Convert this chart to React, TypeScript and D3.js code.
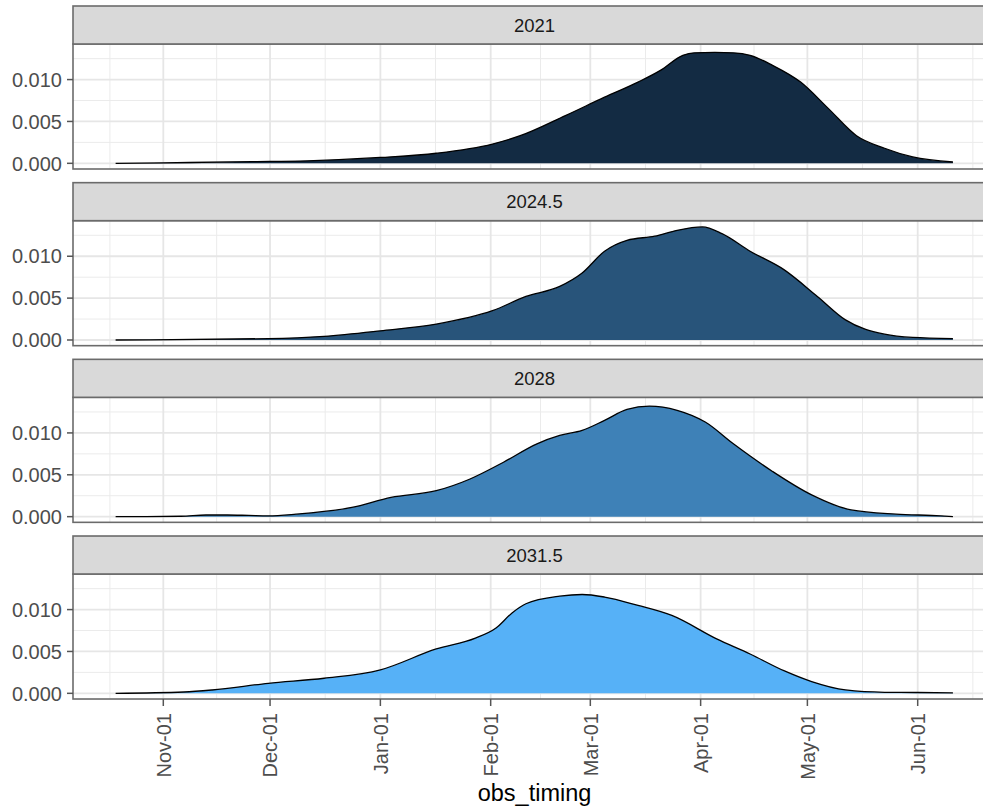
import React from "react";
import * as d3 from "d3";

// Facet labels (year) and their fill colour position
const facets = ["2021", "2024.5", "2028", "2031.5"];
const facetValues = [2021, 2024.5, 2028, 2031.5];

// Days since Nov-01 and density values for each facet
const days2021 = [-13.4, 7.4, 25, 40.5, 61, 76.7, 92.5, 100.3, 113, 124, 133.4, 139.7, 146, 149.2, 155, 160.2, 164.9, 171.2, 179.1, 187, 194.8, 202.7, 210.6, 221.9];
const dens2021 = [0, 0.0001, 0.0002, 0.0003, 0.0007, 0.0012, 0.0023, 0.0033, 0.0057, 0.0079, 0.0097, 0.0111, 0.0129, 0.0132, 0.01325, 0.0132, 0.0129, 0.0117, 0.0097, 0.0065, 0.0033, 0.0018, 0.00076, 0.00016];

const days2024 = [-13.4, 29.5, 45.2, 61, 76.7, 92.5, 101.9, 111.4, 117.7, 124, 130.3, 138.1, 144.4, 151.5, 157, 164.9, 174.4, 183.8, 191.7, 202.7, 210.6, 221.9];
const dens2024 = [0, 0.00016, 0.00044, 0.0011, 0.0019, 0.0035, 0.0052, 0.0064, 0.008, 0.0106, 0.0119, 0.0124, 0.0131, 0.0135, 0.0127, 0.0106, 0.0084, 0.0052, 0.0024, 0.0007, 0.0003, 0.00016];

const days2028 = [-13.4, 5, 12, 18, 24, 29.5, 37.3, 53, 64, 76.7, 86.2, 95.6, 105, 111.4, 117.7, 124, 130.3, 136.6, 144.4, 152.3, 160.2, 171.2, 182.2, 193.3, 205.9, 218.5, 221.9];
const dens2028 = [0, 0.00005, 0.0002, 0.0002, 0.00015, 0.0001, 0.0003, 0.0011, 0.0023, 0.0031, 0.0045, 0.0065, 0.0087, 0.0097, 0.0103, 0.0115, 0.0128, 0.0132, 0.0127, 0.0113, 0.0087, 0.0054, 0.0026, 0.0008, 0.0003, 0.0001, 0];

const days2031 = [-13.4, 5.8, 13.7, 29.5, 45.2, 61, 76.7, 87.7, 93.5, 98, 101.9, 111.4, 117.7, 124, 133.4, 142.9, 155.5, 164.9, 174.4, 182.2, 191.7, 202.7, 212, 221.9];
const dens2031 = [0, 0.00016, 0.0004, 0.0012, 0.0018, 0.0028, 0.0053, 0.0066, 0.0078, 0.0096, 0.0107, 0.0116, 0.0118, 0.0115, 0.0105, 0.0093, 0.0065, 0.0047, 0.0027, 0.0014, 0.0004, 0.00012, 0.0001, 0.00005];

const seriesDays = [days2021, days2024, days2028, days2031];
const seriesDens = [dens2021, dens2024, dens2028, dens2031];

const yTicks = [0, 0.005, 0.01];
const yMinor = [0.0025, 0.0075, 0.0125];

const W = 983;
const H = 809;
const panelLeft = 73;
const panelRight = 996;
const stripTop0 = 6;
const pitch = 176.67;
const stripH = 38;
const panelH = 125;

const base = Date.UTC(2021, 10, 1);
const toDate = (d: number) => new Date(base + d * 864e5);

export default function App() {
  const x = d3
    .scaleUtc()
    .domain([new Date(Date.UTC(2021, 10, 1)), new Date(Date.UTC(2022, 5, 1))])
    .range([163.3, 917.7]);
  const months = d3.utcMonth.range(new Date(Date.UTC(2021, 10, 1)), new Date(Date.UTC(2022, 5, 2)));
  const fmt = d3.utcFormat("%b-%d");
  const majX = months.map((m) => x(m));
  const minX: number[] = [];
  minX.push(majX[0] - (majX[1] - majX[0]) / 2);
  for (let i = 0; i < majX.length - 1; i++) minX.push((majX[i] + majX[i + 1]) / 2);
  minX.push(majX[majX.length - 1] + (majX[majX.length - 1] - majX[majX.length - 2]) / 2);

  const yMax = 0.01357;
  const pad = yMax * 0.05;
  const col = d3.scaleLinear<string>().domain([2021, 2031.5]).range(["#132B43", "#56B1F7"]).interpolate(d3.interpolateLab);

  const font = "Liberation Sans, Arial, sans-serif";

  return (
    <svg width={W} height={H} style={{ position: "absolute", left: 0, top: 0, background: "#fff" }} fontFamily={font}>
      <rect x={0} y={0} width={W} height={H} fill="#fff" />
      {facets.map((lab, i) => {
        const sTop = stripTop0 + i * pitch;
        const pTop = sTop + stripH;
        const pBot = pTop + panelH;
        const y = d3.scaleLinear().domain([-pad, yMax + pad]).range([pBot, pTop]);
        const pts = seriesDays[i].map((d, k) => ({ d: toDate(d), v: seriesDens[i][k] }));
        const area = d3
          .area<{ d: Date; v: number }>()
          .x((p) => x(p.d))
          .y0(y(0))
          .y1((p) => y(p.v))
          .curve(d3.curveMonotoneX);
        const line = d3
          .line<{ d: Date; v: number }>()
          .x((p) => x(p.d))
          .y((p) => y(p.v))
          .curve(d3.curveMonotoneX);
        return (
          <g key={lab}>
            {/* grid */}
            {yMinor.map((t) => (
              <line key={"ym" + t} x1={panelLeft} x2={panelRight} y1={y(t)} y2={y(t)} stroke="#EBEBEB" strokeWidth={1} />
            ))}
            {minX.map((v, k) => (
              <line key={"xm" + k} x1={v} x2={v} y1={pTop} y2={pBot} stroke="#EBEBEB" strokeWidth={1} />
            ))}
            {yTicks.map((t) => (
              <line key={"yM" + t} x1={panelLeft} x2={panelRight} y1={y(t)} y2={y(t)} stroke="#E6E6E6" strokeWidth={1.8} />
            ))}
            {majX.map((v, k) => (
              <line key={"xM" + k} x1={v} x2={v} y1={pTop} y2={pBot} stroke="#E6E6E6" strokeWidth={1.8} />
            ))}
            <path d={area(pts) || ""} fill={col(facetValues[i])} />
            <path d={line(pts) || ""} fill="none" stroke="#000" strokeWidth={1.3} />
            {/* panel border */}
            <rect x={panelLeft} y={pTop} width={panelRight - panelLeft} height={panelH} fill="none" stroke="#6b6b6b" strokeWidth={1.6} />
            {/* strip */}
            <rect x={panelLeft} y={sTop} width={panelRight - panelLeft} height={stripH} fill="#D9D9D9" stroke="#6b6b6b" strokeWidth={1.6} />
            <text x={(panelLeft + panelRight) / 2} y={sTop + stripH / 2} dy="0.36em" textAnchor="middle" fontSize={18.5} fill="#1A1A1A">
              {lab}
            </text>
            {/* y axis */}
            {yTicks.map((t) => (
              <g key={"yt" + t}>
                <line x1={panelLeft - 6} x2={panelLeft} y1={y(t)} y2={y(t)} stroke="#555" strokeWidth={1.5} />
                <text x={panelLeft - 11} y={y(t)} dy="0.36em" textAnchor="end" fontSize={20} fill="#4D4D4D">
                  {d3.format(".3f")(t)}
                </text>
              </g>
            ))}
            {i === facets.length - 1 &&
              months.map((m, k) => (
                <g key={"xt" + k}>
                  <line x1={x(m)} x2={x(m)} y1={pBot} y2={pBot + 7} stroke="#555" strokeWidth={1.5} />
                  <text
                    transform={`translate(${x(m)},${pBot + 14}) rotate(-90)`}
                    dy="0.36em"
                    textAnchor="end"
                    fontSize={20}
                    fill="#4D4D4D"
                  >
                    {fmt(m)}
                  </text>
                </g>
              ))}
          </g>
        );
      })}
      <text x={(panelLeft + panelRight) / 2} y={801} textAnchor="middle" fontSize={23.5} fill="#000">
        obs_timing
      </text>
    </svg>
  );
}
